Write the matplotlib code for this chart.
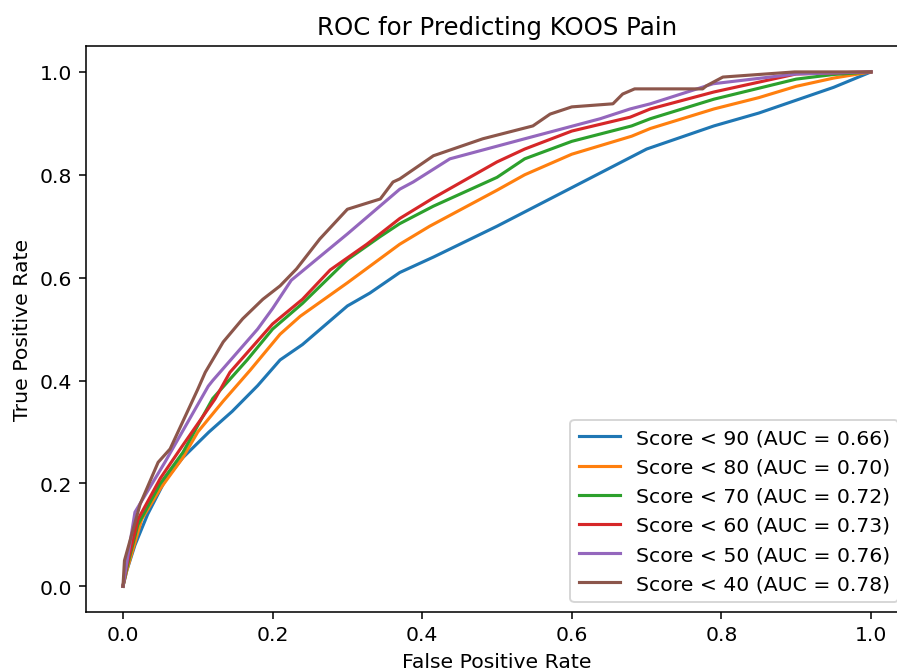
import numpy as np
import matplotlib
matplotlib.use("Agg")
import matplotlib.pyplot as plt

# ROC points (false positive rate, true positive rate)
labels = ["Score < 90", "Score < 80", "Score < 70", "Score < 60", "Score < 50", "Score < 40"]
aucs = [0.66, 0.70, 0.72, 0.73, 0.76, 0.78]

fpr90 = [0, 0.005, 0.016, 0.033, 0.056, 0.08, 0.115, 0.146, 0.18, 0.21, 0.24, 0.3, 0.33,
         0.37, 0.415, 0.5, 0.54, 0.6, 0.68, 0.7, 0.79, 0.85, 0.9, 0.95, 1.0]
tpr90 = [0, 0.03, 0.08, 0.14, 0.205, 0.25, 0.30, 0.34, 0.39, 0.44, 0.47, 0.545, 0.57,
         0.61, 0.64, 0.70, 0.73, 0.775, 0.835, 0.85, 0.895, 0.92, 0.945, 0.97, 1.0]

fpr80 = [0, 0.005, 0.025, 0.05, 0.08, 0.10, 0.134, 0.17, 0.21, 0.237, 0.30, 0.37, 0.41,
         0.5, 0.537, 0.6, 0.68, 0.705, 0.79, 0.85, 0.9, 0.95, 1.0]
tpr80 = [0, 0.03, 0.13, 0.19, 0.25, 0.30, 0.36, 0.42, 0.49, 0.525, 0.59, 0.665, 0.70,
         0.77, 0.80, 0.84, 0.875, 0.89, 0.928, 0.95, 0.972, 0.988, 1.0]

fpr70 = [0, 0.005, 0.02, 0.05, 0.08, 0.12, 0.166, 0.20, 0.24, 0.30, 0.344, 0.37, 0.415,
         0.5, 0.537, 0.6, 0.68, 0.705, 0.79, 0.9, 0.95, 1.0]
tpr70 = [0, 0.035, 0.12, 0.20, 0.26, 0.365, 0.44, 0.50, 0.55, 0.635, 0.68, 0.705, 0.739,
         0.795, 0.831, 0.865, 0.895, 0.909, 0.947, 0.986, 0.995, 1.0]

fpr60 = [0, 0.005, 0.02, 0.05, 0.079, 0.123, 0.143, 0.2, 0.24, 0.277, 0.326, 0.37, 0.415,
         0.5, 0.537, 0.6, 0.678, 0.705, 0.79, 0.9, 1.0]
tpr60 = [0, 0.04, 0.13, 0.21, 0.272, 0.364, 0.416, 0.51, 0.558, 0.615, 0.665, 0.715, 0.755,
         0.825, 0.85, 0.885, 0.912, 0.928, 0.961, 0.996, 1.0]

fpr50 = [0, 0.005, 0.016, 0.056, 0.114, 0.12, 0.18, 0.20, 0.225, 0.25, 0.30, 0.37, 0.388,
         0.437, 0.537, 0.638, 0.678, 0.705, 0.789, 0.9, 1.0]
tpr50 = [0, 0.045, 0.144, 0.241, 0.389, 0.40, 0.50, 0.54, 0.595, 0.625, 0.685, 0.772, 0.786,
         0.831, 0.87, 0.909, 0.928, 0.938, 0.977, 0.996, 1.0]

fpr40 = [0, 0.002, 0.023, 0.047, 0.063, 0.10, 0.11, 0.134, 0.16, 0.187, 0.21, 0.232, 0.263,
         0.30, 0.344, 0.361, 0.37, 0.415, 0.481, 0.548, 0.571, 0.60, 0.655, 0.668, 0.684,
         0.775, 0.78, 0.802, 0.898, 1.0]
tpr40 = [0, 0.05, 0.16, 0.241, 0.267, 0.383, 0.416, 0.475, 0.52, 0.558, 0.584, 0.617, 0.675,
         0.733, 0.753, 0.786, 0.792, 0.837, 0.87, 0.895, 0.918, 0.932, 0.938, 0.957, 0.967,
         0.967, 0.973, 0.99, 1.0, 1.0]

curves = [(fpr90, tpr90), (fpr80, tpr80), (fpr70, tpr70),
          (fpr60, tpr60), (fpr50, tpr50), (fpr40, tpr40)]

plt.rcParams['font.size'] = 10.5
plt.rcParams['lines.linewidth'] = 1.6

fig = plt.figure(figsize=(6.4, 4.8), dpi=140.16)
ax = fig.add_axes([0.0954, 0.0892, 0.9173, 0.841])

for (f, t), lab, auc in zip(curves, labels, aucs):
    ax.plot(f, t, label=f"{lab} (AUC = {auc:.2f})")

ax.set_xlim(-0.05, 1.05)
ax.set_ylim(-0.05, 1.05)
ax.set_xlabel("False Positive Rate")
ax.set_ylabel("True Positive Rate")
ax.set_title("ROC for Predicting KOOS Pain", fontsize=12.6)
ax.legend(loc="lower right")

fig.savefig("out.png", dpi=140.16)
